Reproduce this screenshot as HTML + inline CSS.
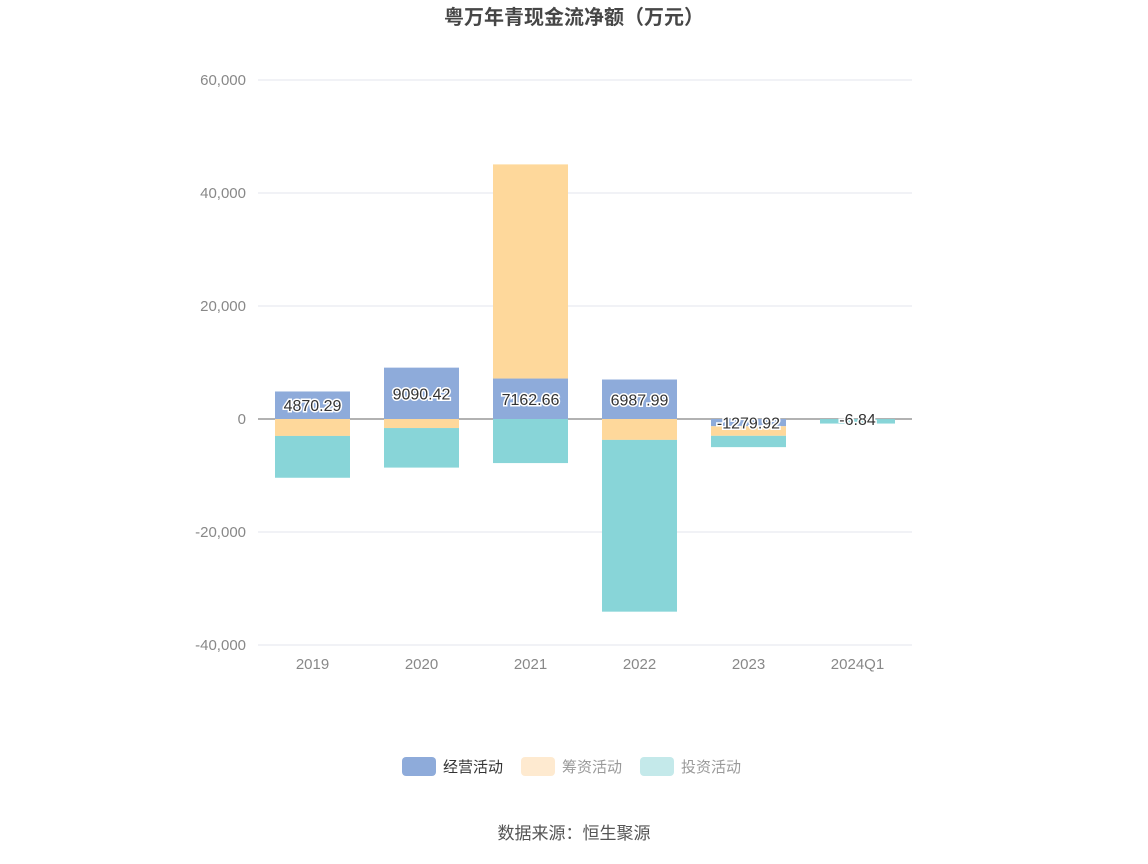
<!DOCTYPE html>
<html><head><meta charset="utf-8"><style>
body{margin:0;background:#fff;font-family:"Liberation Sans","Noto Sans CJK SC",sans-serif;}
svg text{font-family:"Liberation Sans","Noto Sans CJK SC",sans-serif;}
</style></head><body>
<svg id="chart" width="1148" height="859" xmlns="http://www.w3.org/2000/svg">
<text x="574" y="24" text-anchor="middle" font-size="20" font-weight="bold" fill="#464646">粤万年青现金流净额（万元）</text>
<g id="grid"></g>
<g id="bars"></g>
<g id="labels"></g>
<g>
<g><rect x="402" y="757" width="34" height="19" rx="4" fill="#8eabda"/><text x="443" y="772" font-size="15" fill="#333">经营活动</text></g>
<g><rect x="521" y="757" width="34" height="19" rx="4" fill="#feead0"/><text x="562" y="772" font-size="15" fill="#999">筹资活动</text></g>
<g><rect x="640" y="757" width="34" height="19" rx="4" fill="#c4e9ea"/><text x="681" y="772" font-size="15" fill="#999">投资活动</text></g>
</g>
<text x="574" y="839" text-anchor="middle" font-size="17" fill="#555">数据来源：恒生聚源</text>
</svg>
<script>
const categories=["2019","2020","2021","2022","2023","2024Q1"];
const operating=[4870.29,9090.42,7162.66,6987.99,-1279.92,-6.84];
const financing=[-3000,-1600,37900,-3700,-1700,0];
const investing=[-7400,-7000,-7800,-30400,-2000,-800];
const yTicks=[60000,40000,20000,0,-20000,-40000];
const NS="http://www.w3.org/2000/svg";
const x0=258,x1=912,yZero=419,pxPer=113/20000;
const y=v=>yZero-v*pxPer;
const band=(x1-x0)/categories.length;
const xc=i=>x0+band*(i+0.5);
function mk(tag,attrs,parent){const e=document.createElementNS(NS,tag);for(const k in attrs)e.setAttribute(k,attrs[k]);parent.appendChild(e);return e;}
const grid=document.getElementById('grid'),bars=document.getElementById('bars'),labels=document.getElementById('labels');
yTicks.forEach(t=>{
 if(t!==0){const l=mk('line',{x1:x0,x2:x1,y1:y(t),y2:y(t),stroke:'#e3e6ec','stroke-width':1},grid);
 
 }
 const tx=mk('text',{x:246,y:y(t)+5,'text-anchor':'end','font-size':15,fill:'#888'},grid);
 tx.textContent=t.toLocaleString('en-US');
 
 
});
categories.forEach((c,i)=>{
 const tx=mk('text',{x:xc(i),y:669,'text-anchor':'middle','font-size':15,fill:'#888'},grid);
 tx.textContent=c;
 
 
});
const series=[[operating,'#8eabda','bar-operating'],[financing,'#fed89b','bar-financing'],[investing,'#88d5d8','bar-investing']];
categories.forEach((c,i)=>{
 let pos=0,neg=0;
 series.forEach(([arr,col,name])=>{
  const v=arr[i];let a,b;
  if(v>=0){a=pos;b=pos+v;pos=b;}else{a=neg;b=neg+v;neg=b;}
  const top=Math.min(y(a),y(b)),h=Math.abs(y(a)-y(b));
  const r=mk('rect',{x:xc(i)-37.5,y:top,width:75,height:h,fill:col},bars);
  
  
 });
});
const axis=mk('line',{x1:x0,x2:x1,y1:yZero,y2:yZero,stroke:'#666','stroke-width':1},grid);


categories.forEach((c,i)=>{
 const v=operating[i];
 const ly=(y(0)+y(v))/2+6;
 const t=mk('text',{x:xc(i),y:ly,'text-anchor':'middle','font-size':16,fill:'#333',stroke:'#fff','stroke-width':3,'paint-order':'stroke'},labels);
 t.textContent=String(v);
 
 
});
</script>
</body></html>
